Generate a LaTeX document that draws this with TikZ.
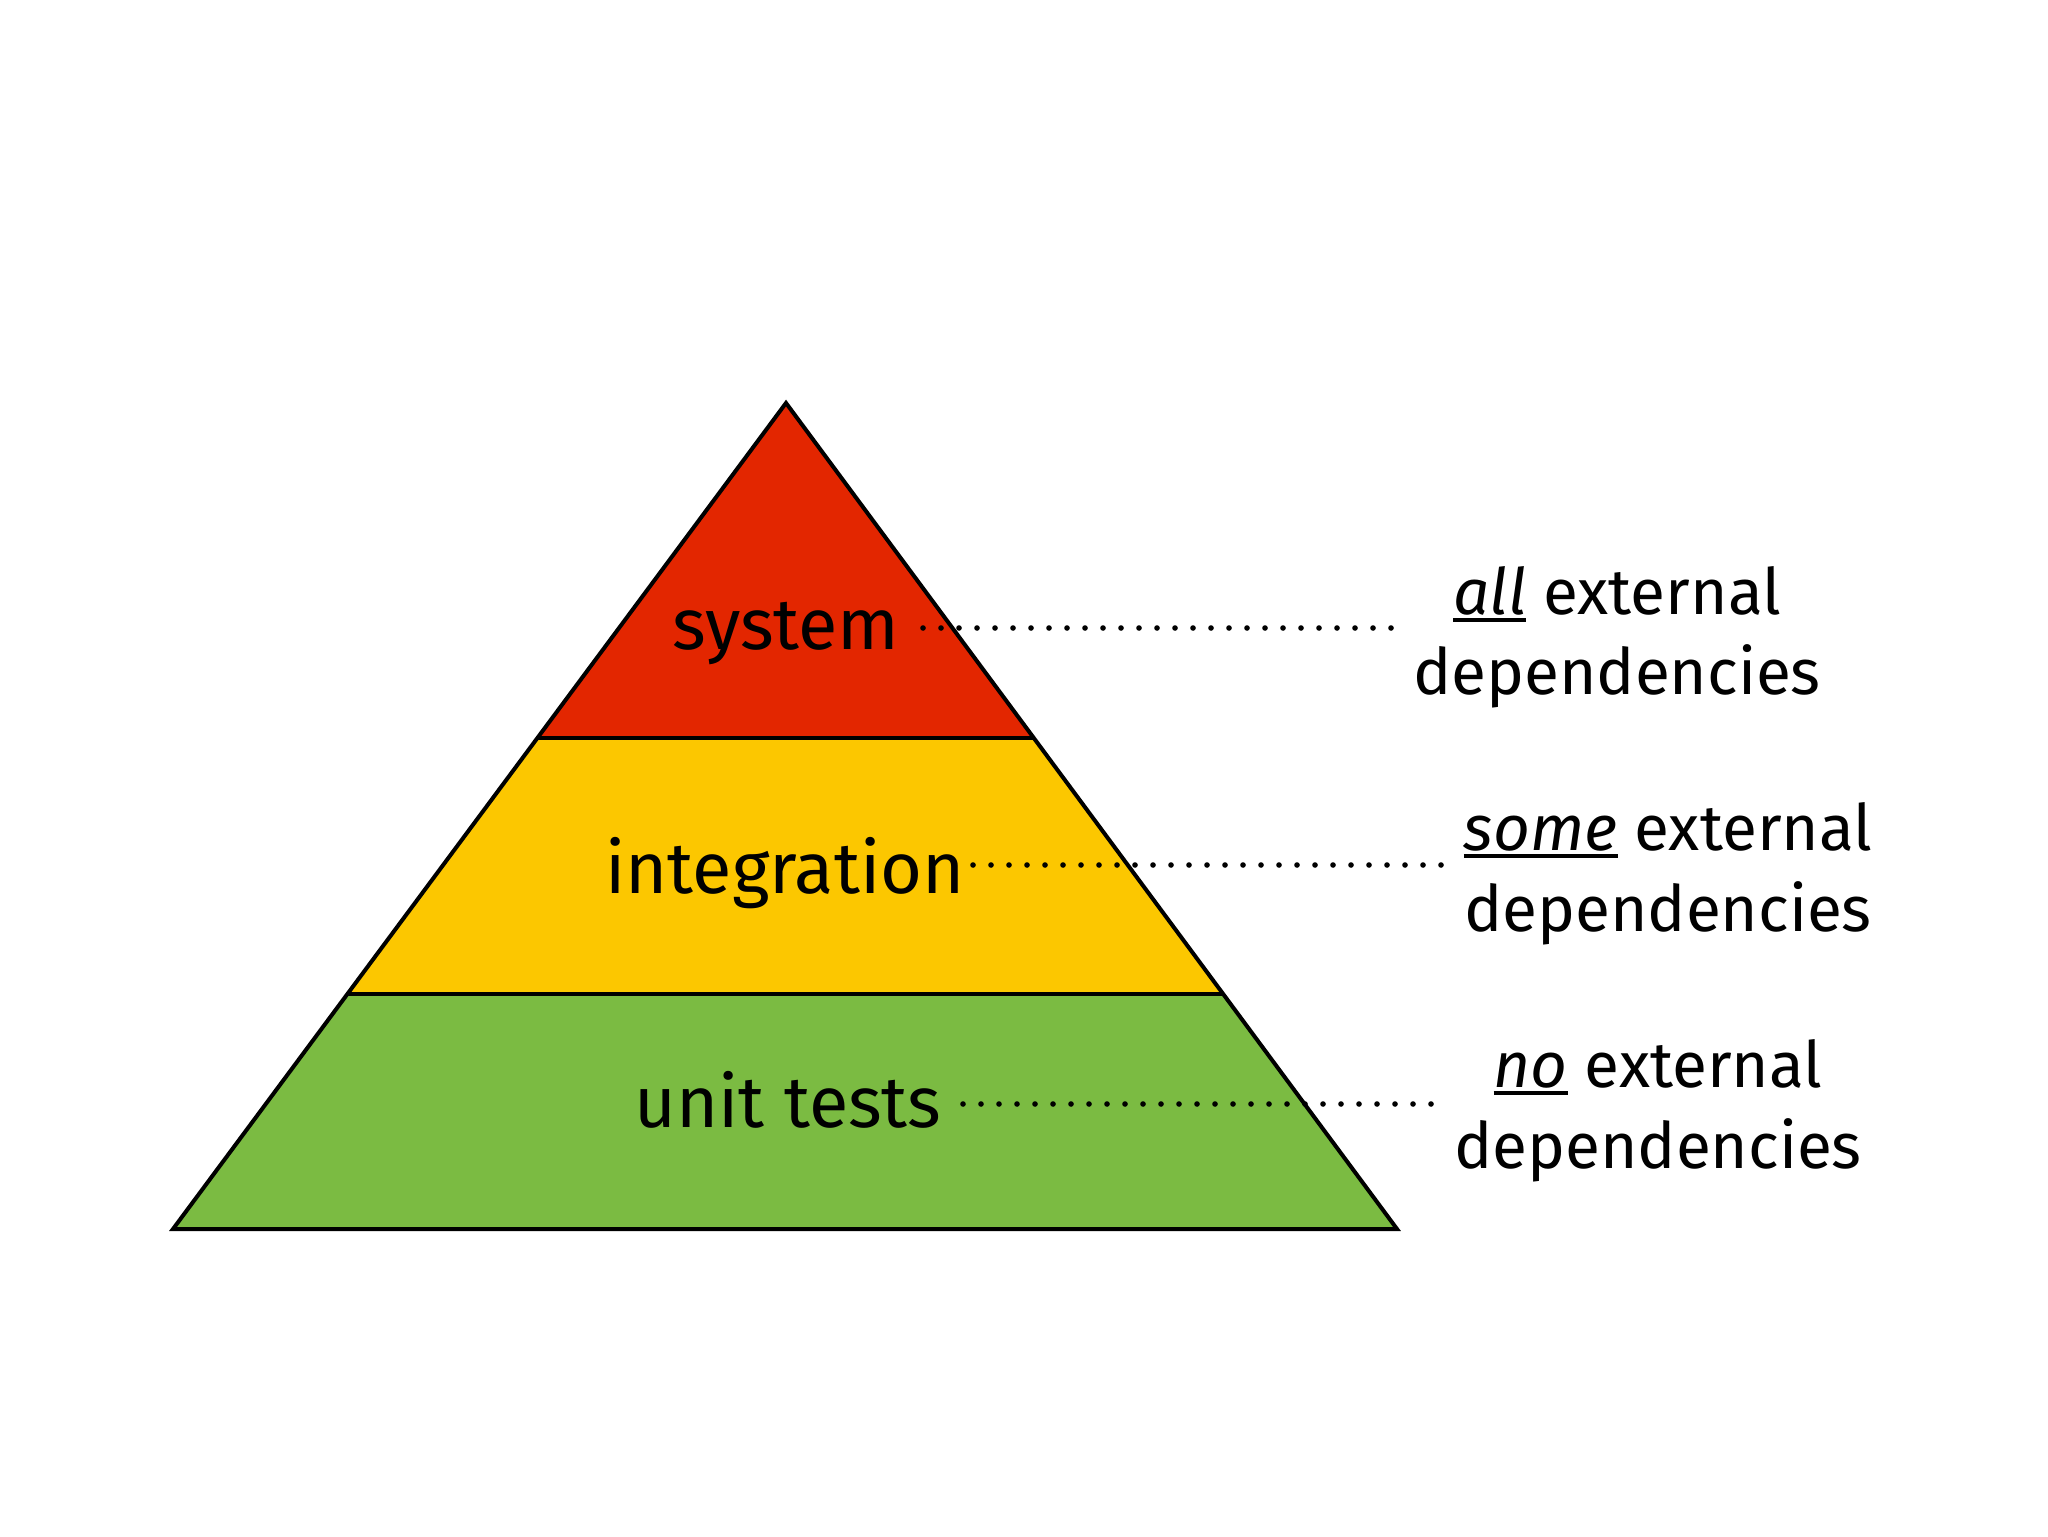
\documentclass[tikz,border=0pt]{standalone}
\usepackage{fontspec}
\setmainfont{Fira Sans}
\definecolor{sysred}{RGB}{227,38,0}
\definecolor{intyellow}{RGB}{252,199,0}
\definecolor{unitgreen}{RGB}{123,187,66}
\newcommand{\myul}[1]{\setbox0\hbox{#1}\rlap{\rule[-4pt]{\wd0}{2pt}}\box0\relax}
\begin{document}
\begin{tikzpicture}[x=0.5pt,y=-0.5pt,
  edge/.style={draw=black, line width=2pt, line join=miter},
  lbl/.style={font=\fontsize{36}{43}\selectfont, anchor=base, inner sep=0pt},
  rlbl/.style={font=\fontsize{32}{38}\selectfont, anchor=base, inner sep=0pt},
  dotline/.style={line width=2.8pt, line cap=round, dash pattern=on 0pt off 9pt}]
\useasboundingbox[fill=white] (0,0) rectangle (2048,1536);
\coordinate (apex) at (786,403);
\coordinate (bl) at (173,1229);
\coordinate (br) at (1397,1229);
\coordinate (r1l) at (538,738);
\coordinate (r1r) at (1034,738);
\coordinate (r2l) at (347.4,994);
\coordinate (r2r) at (1223,994);
\fill[unitgreen] (bl) -- (br) -- (r2r) -- (r2l) -- cycle;
\fill[intyellow] (r2l) -- (r2r) -- (r1r) -- (r1l) -- cycle;
\fill[sysred] (r1l) -- (r1r) -- (apex) -- cycle;
\draw[edge] (apex) -- (br) -- (bl) -- cycle;
\draw[edge] (r1l) -- (r1r);
\draw[edge] (r2l) -- (r2r);
\node[lbl] (sys) at (786,649) {system};
\node[lbl] (int) at (785,893) {integration};
\node[lbl] (unit) at (788,1127) {unit tests};
\node[rlbl] (a1) at (1617,614) {\myul{\textit{all}} external};
\node[rlbl] (a2) at (1617,694) {dependencies};
\node[rlbl] (s1) at (1668,850) {\myul{\textit{some}} external};
\node[rlbl] (s2) at (1668,931) {dependencies};
\node[rlbl] (n1) at (1658,1087) {\myul{\textit{no}} external};
\node[rlbl] (n2) at (1658,1168) {dependencies};
\coordinate (d1a) at (923,628);
\coordinate (d1b) at (1393,628);
\coordinate (d2a) at (973,865);
\coordinate (d2b) at (1443,865);
\coordinate (d3a) at (963,1104);
\coordinate (d3b) at (1437,1104);
\draw[dotline] (d1a) -- (d1b);
\draw[dotline] (d2a) -- (d2b);
\draw[dotline] (d3a) -- (d3b);
\end{tikzpicture}
\end{document}
